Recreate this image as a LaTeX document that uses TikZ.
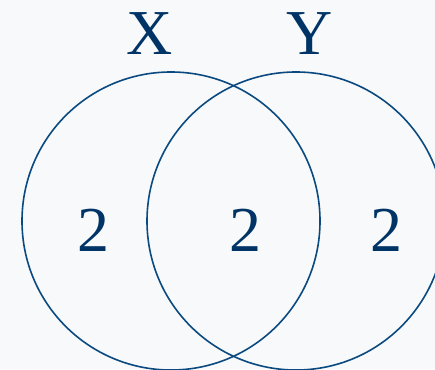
\documentclass[tikz,border=0pt]{standalone}
\usepackage{fontspec}
\setmainfont{Liberation Serif}
\definecolor{bg}{HTML}{F8F9FA}
\definecolor{ink}{HTML}{003366}
\definecolor{ring}{HTML}{0B4A80}
\begin{document}
\begin{tikzpicture}[x=1pt,y=-1pt,
  ringstyle/.style={draw=ring,line width=1.6pt},
  lbl/.style={text=ink,font=\fontsize{64}{64}\selectfont,inner sep=0pt,anchor=base}]
\fill[bg] (0,0) rectangle (435,369);
\useasboundingbox (0,0) rectangle (435,369);
\clip (0,0) rectangle (435,369);
\draw[ringstyle] (171,221) circle[radius=149] coordinate (cx);
\draw[ringstyle] (296,221) circle[radius=149] coordinate (cy);
\node[lbl] (X) at (150,54) {X};
\node[lbl] (Y) at (310,54) {Y};
\node[lbl] (a) at (93,251) {2};
\node[lbl] (b) at (245,251) {2};
\node[lbl] (c) at (386,251) {2};
\end{tikzpicture}
\end{document}
